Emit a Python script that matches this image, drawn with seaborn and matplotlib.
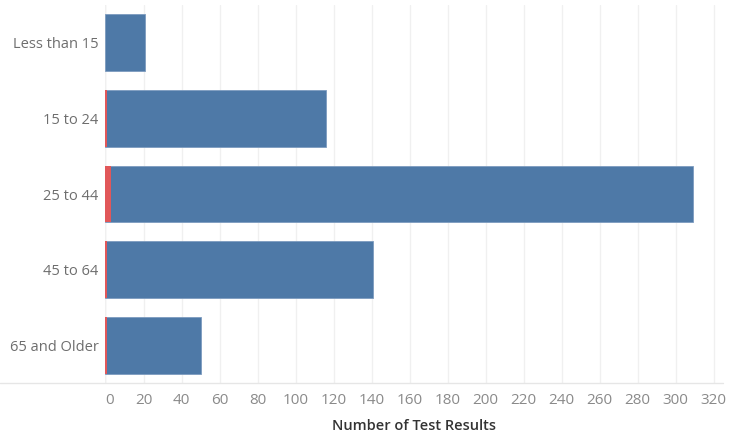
"""Horizontal stacked bar: test results by age group."""

import matplotlib.pyplot as plt
import seaborn as sns
import pandas as pd

age_groups = ["Less than 15", "15 to 24", "25 to 44", "45 to 64", "65 and Older"]
positive = [0, 1, 3, 1, 1]
negative = [21, 115, 306, 140, 49]
x_ticks = list(range(0, 321, 20))

BLUE = "#4E79A7"
RED = "#E15759"

sns.set_theme(style="white")
plt.rcParams["font.family"] = ["Open Sans", "DejaVu Sans"]

df = pd.DataFrame({"Age": age_groups, "Positive": positive, "Negative": negative})
df["Total"] = df["Positive"] + df["Negative"]

fig = plt.figure(figsize=(7.37, 4.34), dpi=100)
ax = fig.add_axes([105.5 / 737, 1 - 383 / 434, (723 - 105.5) / 737, (383 - 5) / 434])

sns.barplot(data=df, x="Total", y="Age", orient="h", color=BLUE, width=0.75,
            saturation=1, edgecolor="#7d9bbf", linewidth=0.6, ax=ax)
sns.barplot(data=df, x="Positive", y="Age", orient="h", color=RED, width=0.75,
            saturation=1, linewidth=0, ax=ax)

ax.set_xlim(0, 325)
ax.set_xticks(x_ticks)
ax.set_xticklabels([str(t) for t in x_ticks], color="#8a8a8a", fontsize=11)
ax.get_xticklabels()[0].set_ha("left")
ax.tick_params(axis="y", labelsize=10.5, labelcolor="#6e6e6e", length=0, pad=5)
ax.tick_params(axis="x", length=4, color="#e6e6e6", pad=3)
ax.xaxis.grid(True, color="#f0f0f0", linewidth=1)
ax.set_axisbelow(True)
for side in ["top", "right", "left", "bottom"]:
    ax.spines[side].set_visible(False)
ax.axvline(0, color="#e6e6e6", linewidth=1, zorder=0)
ax.set_ylabel("")
ax.set_xlabel("Number of Test Results", fontsize=10.5, color="#333333",
              fontweight="semibold", labelpad=8)

# full-width baseline like the reference
fig.add_artist(plt.Line2D([0, 723 / 737], [1 - 383 / 434] * 2, color="#e6e6e6",
                          linewidth=1, transform=fig.transFigure))

fig.savefig("out.png", dpi=100)
